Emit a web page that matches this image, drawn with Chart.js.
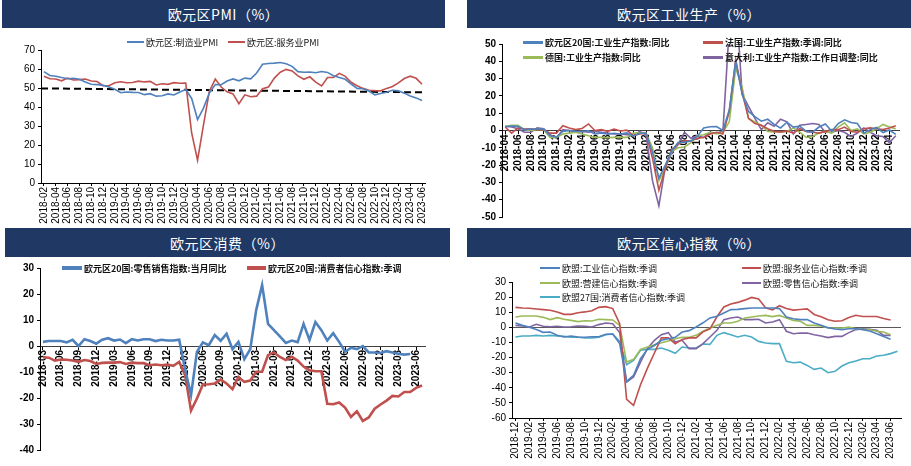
<!DOCTYPE html>
<html>
<head>
<meta charset="utf-8">
<script src="https://cdn.jsdelivr.net/npm/chart.js@4.4.0/dist/chart.umd.min.js"></script>
<style>
body{margin:0;width:911px;height:466px;background:#fff;position:relative;overflow:hidden}
.bar{position:absolute;background:#1f3864;color:#fff;font-family:"Noto Sans CJK SC",sans-serif;font-size:14px;display:flex;align-items:center;justify-content:center;letter-spacing:0.5px}
canvas{position:absolute}
.lg{position:absolute;display:flex;align-items:center;font-family:"Noto Sans CJK SC",sans-serif;color:#111;white-space:nowrap;line-height:1}
.lg i{display:inline-block;margin-right:2px}
</style>
</head>
<body>
<div class="bar" style="left:2px;top:0;width:443px;height:28px">欧元区PMI（%）</div>
<div class="bar" style="left:467px;top:0;width:444px;height:28px">欧元区工业生产（%）</div>
<div class="bar" style="left:5px;top:228px;width:445px;height:29px">欧元区消费（%）</div>
<div class="bar" style="left:467px;top:228px;width:444px;height:29px">欧元区信心指数（%）</div>

<canvas id="c1" width="450" height="196" style="left:0;top:30px"></canvas>
<canvas id="c2" width="456" height="196" style="left:455px;top:30px"></canvas>
<canvas id="c3" width="455" height="208" style="left:0;top:258px"></canvas>
<canvas id="c4" width="456" height="208" style="left:455px;top:258px"></canvas>

<script>
const BLUE = '#4f81bd', RED = '#c0504d', GREEN = '#9bbb59', PURPLE = '#8064a2', CYAN = '#4bacc6';

function months(y, m, n){
  const out = [];
  for (let i = 0; i < n; i++){
    out.push(y + '-' + String(m).padStart(2, '0'));
    m++; if (m > 12){ m = 1; y++; }
  }
  return out;
}

// 欧元区PMI
const pmiMonths = months(2018, 2, 65);
const mfgPMI = [58.6,56.6,56.2,55.5,54.9,55.1,54.6,53.2,52.0,51.8,51.4,
  50.5,49.3,47.5,47.9,47.7,47.6,46.5,47.0,45.7,45.9,46.9,46.3,
  47.9,49.2,44.5,33.4,39.4,47.4,51.8,51.7,53.7,54.8,53.8,55.2,
  54.8,57.9,62.5,62.9,63.1,63.4,62.8,61.4,58.6,58.3,58.4,58.0,
  58.7,58.2,56.5,55.5,54.6,52.1,49.8,49.6,48.4,46.4,47.1,47.8,
  48.8,48.5,47.3,45.8,44.8,43.4];
const svcPMI = [56.2,54.9,54.7,53.8,55.2,54.2,54.4,54.7,53.7,53.4,51.2,
  51.2,52.8,53.3,52.8,52.9,53.6,53.2,53.5,51.6,52.2,51.9,52.8,
  52.5,52.6,26.4,12.0,30.5,48.3,54.7,50.5,48.0,46.9,41.7,46.4,
  45.4,45.7,49.6,50.5,55.2,58.3,59.8,59.0,56.4,54.6,55.9,53.1,
  51.1,55.5,55.6,57.7,56.1,53.0,51.2,49.8,48.8,48.6,48.5,49.8,
  50.8,52.7,55.0,56.2,55.1,52.0];
const trendX = [0, 1];
const trendY = [49.8, 47.7];

// 欧元区工业生产
const ipMonths = months(2018, 4, 62);
const ipEZ = [2.2,2.6,2.5,0.5,0.8,0.9,1.0,-3.0,-3.8,
  -0.5,0.0,-0.4,-0.6,-0.2,-2.0,-1.4,-2.2,-1.6,-2.0,-1.4,-3.3,
  -1.6,-1.6,-12.5,-27.5,-20.0,-11.8,-7.0,-6.8,-6.0,-3.3,1.5,2.2,
  2.3,0.0,12.0,40.0,21.0,11.0,8.0,5.4,6.5,3.5,1.5,4.8,
  2.0,2.5,-0.5,-1.0,2.0,3.8,-0.5,4.0,6.2,4.6,4.0,-1.5,
  0.5,1.8,-1.2,0.3,-2.2];
const ipFR = [2.0,-1.5,1.5,0.8,1.0,0.5,0.5,-1.5,-1.5,
  2.8,1.5,0.5,1.2,3.8,0.0,0.5,-0.5,0.8,-0.3,0.2,-3.0,
  -2.0,-1.5,-16.0,-34.5,-22.0,-11.0,-8.0,-6.0,-6.0,-4.5,-4.0,-2.0,
  -1.0,-2.0,11.0,41.0,22.0,7.0,4.0,3.0,1.0,-0.5,-0.8,-0.3,
  -1.5,1.0,-0.5,-1.0,-1.5,-0.5,0.5,0.5,2.0,-0.5,-1.0,1.0,
  1.5,1.0,0.5,1.5,2.8];
const ipDE = [2.5,3.0,3.0,0.5,0.0,0.5,0.5,-4.0,-4.0,
  -2.0,-1.5,-1.0,-2.0,-3.0,-4.0,-4.0,-4.2,-4.0,-4.0,-4.0,-1.5,
  -1.5,-1.5,-10.0,-29.0,-22.0,-12.0,-10.0,-9.5,-7.0,-3.0,-2.5,-1.0,
  -2.0,-1.0,5.0,36.0,25.0,7.0,5.0,3.0,-0.5,-0.8,-1.0,-0.5,
  1.5,-1.0,-4.0,-3.5,-1.5,-0.5,-1.5,2.0,4.5,0.0,1.0,-2.0,
  -1.0,1.0,3.5,2.0,1.0];
const ipIT = [2.5,2.0,1.0,-1.0,-1.0,1.5,1.0,-2.5,-4.5,
  0.5,0.0,-1.0,-0.5,-1.0,-0.5,-1.0,-1.5,-2.0,-2.0,-2.5,-3.0,
  -0.5,-2.5,-29.0,-43.5,-21.0,-13.0,-8.0,-1.0,-4.5,-3.0,-4.0,-1.0,
  -1.5,-0.5,60.0,79.0,21.0,14.0,7.0,0.5,4.5,2.5,6.5,5.0,
  -2.0,3.0,3.5,4.0,3.5,-1.0,-1.0,0.0,-1.0,-3.5,-1.5,1.5,
  -1.0,-3.0,-3.5,-7.0,-3.0];

// 欧元区消费
const conMonths = months(2018, 3, 65);
const retailYoY = [1.6,1.9,1.9,1.9,1.4,2.4,0.0,2.6,1.9,0.9,2.4,3.0,2.1,2.5,1.1,2.6,2.1,2.6,2.6,1.9,2.4,2.1,2.1,2.4,
  -9.0,-18.9,-2.2,1.4,0.3,4.2,2.0,4.7,-1.2,1.6,-5.1,-1.2,13.8,23.4,8.5,6.1,3.7,1.2,2.1,1.5,8.5,2.3,9.2,6.1,2.1,4.9,1.6,
  -2.2,-0.7,-1.2,0.0,-2.5,-2.5,-2.7,-2.0,-2.5,-3.0,-3.3,-3.1,null,null];
const consConf = [-4.3,-4.5,-5.6,-5.2,-5.3,-5.6,-6.1,-5.4,-5.8,-6.9,-6.5,-6.4,-6.4,-6.2,-6.9,-6.4,-6.6,-6.6,-7.4,-7.1,-7.4,-7.1,-7.6,-6.1,
  -11.2,-24.8,-20.2,-14.8,-14.7,-14.4,-12.9,-14.4,-16.6,-11.9,-13.8,-13.3,-9.9,-9.9,-3.5,-2.5,-4.2,-5.4,-4.1,-5.6,-7.9,-9.3,-9.7,-9.7,
  -22.2,-22.4,-21.7,-23.7,-27.3,-25.1,-28.8,-27.5,-24.1,-22.5,-21.0,-19.2,-19.4,-17.7,-17.7,-16.1,-15.2];

// 欧元区信心指数
const confMonths = months(2018, 12, 56);
const industryConf = [2.9,1.3,0.0,-1.5,-3.3,-3.1,-5.3,-6.4,-5.7,-6.4,-6.6,-6.2,-6.2,-4.6,-4.4,-10.8,
  -35.8,-31.8,-20.8,-14.6,-12.0,-8.6,-7.5,-6.6,-3.1,-2.2,0.2,3.0,6.2,7.3,9.5,11.7,11.9,12.4,12.8,12.8,12.8,12.8,12.4,
  6.8,5.7,5.1,5.1,2.9,1.3,-0.2,-1.1,-1.5,-0.9,-0.9,-1.5,-2.4,-4.2,-6.0,-7.9,null];
const servicesConf = [13.2,12.8,12.6,12.1,11.7,11.3,10.2,8.6,8.6,9.7,10.2,11.0,13.2,13.7,12.4,2.4,
  -47.7,-51.7,-38.0,-27.0,-17.0,-7.0,-7.0,-10.8,-8.0,-7.0,-7.0,-3.0,-1.0,7.0,13.5,15.5,16.5,18.0,19.8,18.7,13.0,11.5,14.3,
  12.5,11.4,11.8,12.2,8.5,7.0,5.0,4.0,4.3,6.5,8.0,7.2,7.2,7.2,5.8,4.8,null];
const constructionConf = [6.8,7.5,7.5,7.5,6.6,5.1,6.4,5.3,4.6,3.8,4.4,4.2,5.3,5.1,4.9,1.3,
  -23.0,-21.2,-14.6,-13.0,-11.5,-10.2,-9.0,-7.5,-6.6,-6.6,-5.3,-2.6,-0.4,1.3,2.9,2.9,4.0,6.2,6.8,7.5,7.9,7.1,7.9,
  6.2,4.6,4.0,1.3,1.3,0.9,-0.4,-0.4,-0.4,0.2,-0.9,-1.3,-1.5,-2.6,-3.1,-4.9,null];
const retailConf = [1.3,0.9,0.2,2.0,0.7,0.4,0.7,0.2,0.4,0.9,0.7,0.2,1.8,2.9,2.4,-3.5,
  -36.2,-32.9,-23.0,-14.0,-8.6,-4.9,-3.5,-9.7,-8.6,-14.1,-14.1,-10.8,-6.4,-2.0,5.1,6.2,6.8,5.1,5.1,5.3,2.9,3.5,5.1,
  -2.6,-4.2,-3.8,-3.8,-4.9,-5.7,-6.8,-6.0,-6.0,-3.5,-1.5,-0.9,-1.3,-2.0,-5.3,-5.3,null];
const consumerEU = [-6.4,-5.7,-5.7,-5.3,-5.7,-5.3,-5.7,-6.0,-6.6,-6.6,-7.1,-7.1,-6.6,-4.9,-4.4,-9.3,
  -24.7,-21.9,-15.2,-14.6,-14.6,-13.7,-15.2,-17.2,-13.0,-13.7,-13.7,-11.0,-11.3,-5.3,-3.5,-4.9,-6.4,-5.3,-6.4,-9.3,-10.4,-10.8,-10.8,
  -22.5,-23.4,-23.0,-25.2,-27.8,-26.9,-30.0,-29.1,-25.6,-23.4,-22.3,-20.8,-20.8,-19.0,-18.5,-17.4,-15.9];

Chart.defaults.font.family = '"Liberation Sans", "Noto Sans CJK SC", sans-serif';
Chart.defaults.color = '#000';

function line(label, data, color, width){
  return {label, data, borderColor: color, backgroundColor: color, borderWidth: width, pointRadius: 0, tension: 0, fill: false};
}

function yAxis(min, max, width, bold, zero){
  return {
    min, max,
    ticks: {stepSize: 10, padding: 3, color: '#000', font: {size: 10, weight: bold ? 'bold' : 'normal'}},
    grid: {drawOnChartArea: zero, tickLength: 3, tickColor: '#000',
      color: c => (zero && c.tick && c.tick.value === 0) ? '#595959' : 'rgba(0,0,0,0)'},
    border: {color: '#000'},
    afterFit(s){ s.width = width; }
  };
}

function xAxis(step, bold, height, pos){
  const ax = {
    offset: true,
    ticks: {autoSkip: false, minRotation: 90, maxRotation: 90, padding: 1, color: '#000',
      font: {size: 10, weight: bold ? 'bold' : 'normal'},
      callback: function(v, i){ return i % step ? '' : this.getLabelForValue(v); }},
    grid: {drawOnChartArea: false, tickLength: 3, color: c => (c.index % step ? 'rgba(0,0,0,0)' : '#000')},
    border: {color: pos ? '#404040' : '#000'}
  };
  if (pos) ax.position = pos;
  if (height) ax.afterFit = s => { s.height = height; };
  return ax;
}

function opts(padding, scales){
  return {
    responsive: false, animation: false,
    layout: {padding},
    plugins: {legend: {display: false}, tooltip: {enabled: false}},
    scales
  };
}

new Chart(document.getElementById('c1'), {
  type: 'line',
  data: {labels: pmiMonths, datasets: [
    line('欧元区:制造业PMI', mfgPMI, BLUE, 1.6),
    line('欧元区:服务业PMI', svcPMI, RED, 1.6),
    Object.assign(line('趋势', trendX.map((x, i) => ({x, y: trendY[i]})), '#000', 2), {xAxisID: 'xt', borderDash: [7, 4]})
  ]},
  options: opts({top: 20, right: 25, left: 0, bottom: 0}, {
    x: xAxis(2, false, 43),
    xt: {type: 'linear', display: false, min: 0, max: 1},
    y: yAxis(0, 70, 41, false, false)
  })
});

new Chart(document.getElementById('c2'), {
  type: 'line',
  data: {labels: ipMonths, datasets: [
    line('欧元区20国:工业生产指数:同比', ipEZ, BLUE, 1.6),
    line('法国:工业生产指数:季调:同比', ipFR, RED, 1.6),
    line('德国:工业生产指数:同比', ipDE, GREEN, 1.6),
    line('意大利:工业生产指数:工作日调整:同比', ipIT, PURPLE, 1.6)
  ]},
  options: opts({top: 14, right: 12, left: 0, bottom: 2}, {
    x: xAxis(2, true, 0, {y: 0}),
    y: yAxis(-50, 50, 47, true, false)
  })
});

new Chart(document.getElementById('c3'), {
  type: 'line',
  data: {labels: conMonths, datasets: [
    line('欧元区20国:零售销售指数:当月同比', retailYoY, BLUE, 2.6),
    line('欧元区20国:消费者信心指数:季调', consConf, RED, 2.6)
  ]},
  options: opts({top: 10, right: 30, left: 0, bottom: 16}, {
    x: xAxis(3, true, 0, {y: 0}),
    y: yAxis(-40, 30, 40, true, false)
  })
});

new Chart(document.getElementById('c4'), {
  type: 'line',
  data: {labels: confMonths, datasets: [
    line('欧盟:工业信心指数:季调', industryConf, BLUE, 1.6),
    line('欧盟:服务业信心指数:季调', servicesConf, RED, 1.6),
    line('欧盟:营建信心指数:季调', constructionConf, GREEN, 1.6),
    line('欧盟:零售信心指数:季调', retailConf, PURPLE, 1.6),
    line('欧盟27国:消费者信心指数:季调', consumerEU, CYAN, 1.6)
  ]},
  options: opts({top: 24, right: 10, left: 0, bottom: 0}, {
    x: xAxis(2, false, 48),
    y: yAxis(-60, 30, 57, false, true)
  })
});

// legends: [left, centerY, lineLength, lineWidth, color, text, fontSize, bold]
const legends = [
  [127, 42, 17, 2, BLUE, '欧元区:制造业PMI', 9, false],
  [228, 42, 17, 2, RED, '欧元区:服务业PMI', 9, false],
  [523, 42, 20, 3, BLUE, '欧元区20国:工业生产指数:同比', 9, true],
  [703, 42, 20, 3, RED, '法国:工业生产指数:季调:同比', 9, true],
  [523, 57, 20, 3, GREEN, '德国:工业生产指数:同比', 9, true],
  [703, 57, 20, 3, PURPLE, '意大利:工业生产指数:工作日调整:同比', 9, true],
  [62, 268, 20, 3.5, BLUE, '欧元区20国:零售销售指数:当月同比', 9, true],
  [247, 268, 19, 3.5, RED, '欧元区20国:消费者信心指数:季调', 9, true],
  [540, 268, 20, 2, BLUE, '欧盟:工业信心指数:季调', 9, false],
  [742, 268, 19, 2, RED, '欧盟:服务业信心指数:季调', 9, false],
  [540, 283, 20, 2, GREEN, '欧盟:营建信心指数:季调', 9, false],
  [742, 283, 19, 2, PURPLE, '欧盟:零售信心指数:季调', 9, false],
  [540, 297, 20, 2, CYAN, '欧盟27国:消费者信心指数:季调', 9, false]
];
legends.forEach(([x, y, len, lw, color, text, size, bold]) => {
  const d = document.createElement('div');
  d.className = 'lg';
  d.style.left = x + 'px';
  d.style.top = (y - 7) + 'px';
  d.style.height = '14px';
  d.style.fontSize = size + 'px';
  d.style.fontWeight = bold ? 'bold' : 'normal';
  const i = document.createElement('i');
  i.style.width = len + 'px';
  i.style.height = lw + 'px';
  i.style.background = color;
  const s = document.createElement('span');
  s.textContent = text;
  d.appendChild(i);
  d.appendChild(s);
  document.body.appendChild(d);
});
</script>
</body>
</html>
